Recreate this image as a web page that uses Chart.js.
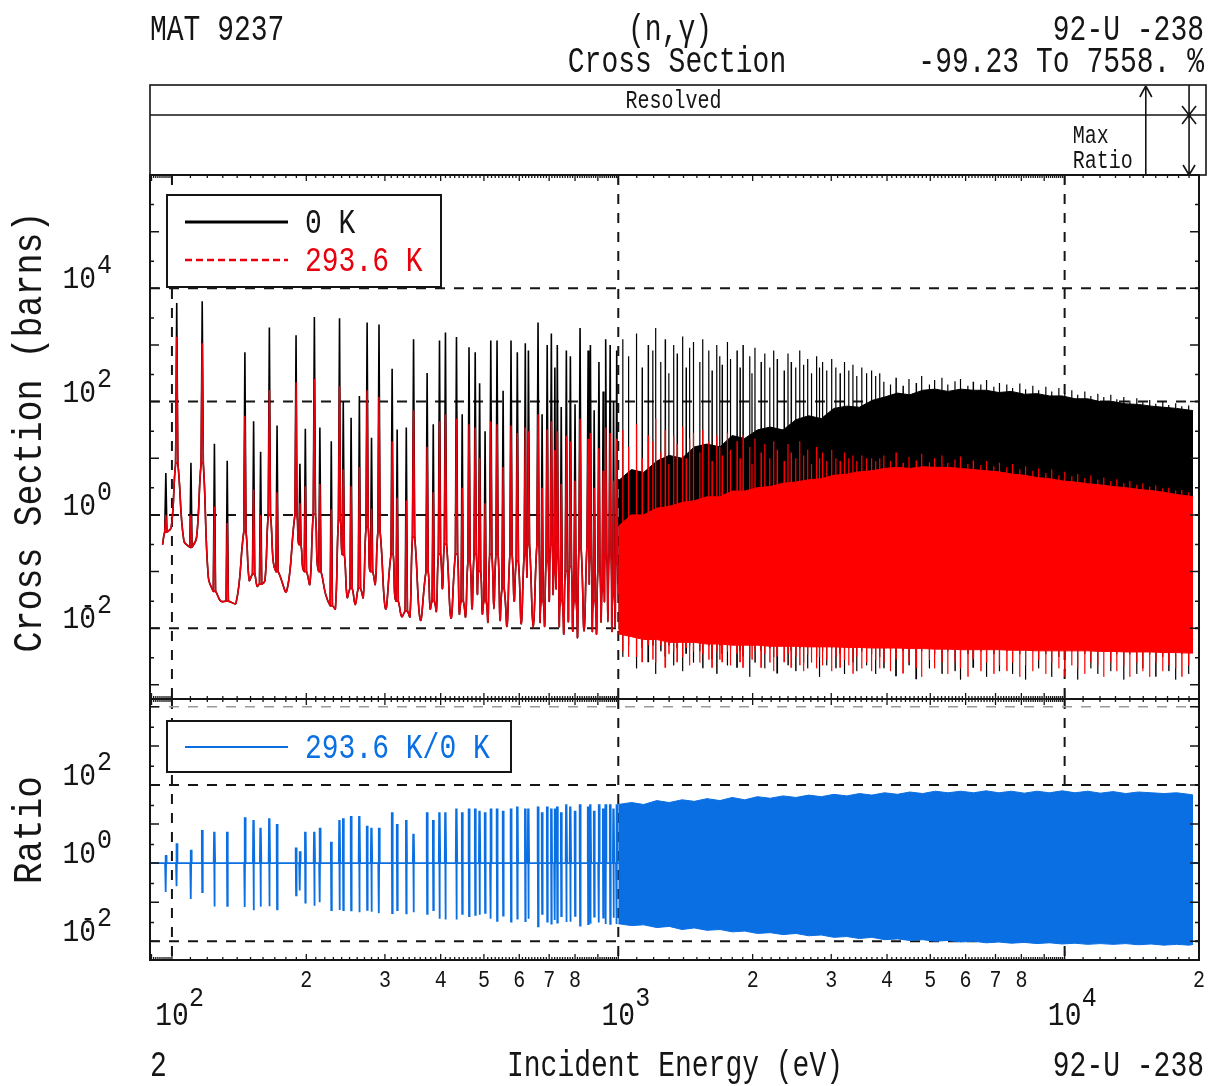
<!DOCTYPE html>
<html lang="en">
<head>
<meta charset="utf-8">
<title>MAT 9237 (n,γ) Cross Section</title>
<script src="https://cdn.jsdelivr.net/npm/chart.js@4.4.1/dist/chart.umd.min.js"></script>
<style>
  html, body { margin: 0; padding: 0; background: #ffffff; }
  #page { position: relative; width: 1210px; height: 1086px; overflow: hidden; }
  #page canvas { position: absolute; left: 0; top: 0; }
</style>
</head>
<body>
<div id="page">
  <canvas id="xsCanvas" width="1210" height="1086"></canvas>
  <canvas id="ratioCanvas" width="1210" height="1086"></canvas>
</div>
<script>
// ---------- axis ranges ----------
const eMin = 89.3, eMax = 20000;                 // incident energy (eV)
const xsMin = 10 ** -3.25, xsMax = 1e6;          // cross section (barns)
const ratioMin = 10 ** -2.48, ratioMax = 10 ** 4.2;

const xDecades = [100, 1000, 10000];
const xsLabelExp = [4, 2, 0, -2];
const ratioLabelExp = [2, 0, -2];
const xsGridLevels = [1e4, 1e2, 1, 1e-2];
const ratioGridLevels = [1e2, 1e-2];

// max-ratio markers in the top strip (eV)
const maxRatioE = 15200;
const markE = 19000;

// ---------- resolved resonances below 1 keV ----------
const resolvedStart = [95.3, 0.3];
const resolvedEnd = [1000, 0.04];
const resE = [96.9, 102.5, 110.3, 116.9, 124.5, 133, 145.7, 152.4, 158, 165.3,
  172, 189.7, 193.5, 199, 208.5, 214.5, 227.5, 237.4, 242, 252,
  263, 273.7, 280, 291, 311.4, 319.6, 335, 347.8, 373, 385,
  397.6, 410, 434, 447, 463, 478, 489, 503, 518, 535,
  552, 575, 594, 619, 629, 661, 675, 693, 708, 721,
  730, 745, 765, 781, 800, 821, 856, 866, 883, 905,
  925, 937, 959, 976, 992];
// peak cross sections, 0 K and 293.6 K (barns)
const peak0 = [5.5, 5500, 8.3, 5900, 18, 9, 740, 45, 13, 2040,
  38, 1480, 8, 33, 3100, 35, 20, 2950, 100, 52,
  126, 2500, 23, 2300, 380, 32, 35, 1260, 320, 40,
  1200, 1660, 1380, 60, 910, 740, 210, 30, 1200, 1200,
  155, 1200, 740, 1070, 800, 2500, 60, 1000, 1600, 400,
  1000, 80, 800, 630, 90, 2000, 800, 1000, 70, 500,
  150, 1260, 1000, 100, 800];
const peak293 = [1.0, 1400, 1.0, 1070, 1.4, 0.72, 56, 2.8, 1.0, 160,
  2.5, 220, 1.6, 3.2, 250, 3.5, 1.26, 186, 6.3, 3.2,
  7, 158, 1.3, 120, 20, 2, 1.8, 70, 16, 2.5,
  45, 60, 50, 3, 40, 35, 10, 1.6, 45, 40,
  7, 38, 28, 35, 30, 60, 3, 32, 45, 14,
  30, 3.5, 25, 20, 4, 50, 22, 28, 3, 15,
  6, 35, 28, 4, 22];
// level where each narrow peak leaves the smooth curve (barns)
const resFoot = [0.5, 8, 0.27, 8, 0.045, 0.03, 0.5, 0.09, 0.06, 1,
  0.1, 1, 0.3, 0.1, 1, 0.1, 0.025, 0.8, 0.2, 0.05,
  0.05, 0.6, 0.1, 0.5, 0.2, 0.03, 0.02, 0.4, 0.1, 0.03,
  0.2, 0.3, 0.2, 0.03, 0.15, 0.2, 0.1, 0.03, 0.2, 0.2,
  0.05, 0.2, 0.15, 0.2, 0.3, 0.3, 0.03, 0.15, 0.3, 0.1,
  0.2, 0.03, 0.1, 0.12, 0.03, 0.25, 0.3, 0.2, 0.03, 0.1,
  0.05, 0.2, 0.2, 0.04, 0.15];
// minimum between neighbouring resonances (barns)
const resValley = [0.6, 0.35, 0.4, 0.08, 0.03, 0.028, 0.07, 0.055, 0.07, 0.15,
  0.045, 0.4, 0.12, 0.06, 0.15, 0.04, 0.022, 0.3, 0.035, 0.026,
  0.035, 0.12, 0.06, 0.022, 0.04, 0.016, 0.016, 0.014, 0.022, 0.02,
  0.05, 0.015, 0.018, 0.016, 0.022, 0.04, 0.018, 0.013, 0.022, 0.014,
  0.011, 0.03, 0.012, 0.08, 0.01, 0.013, 0.011, 0.03, 0.04, 0.05,
  0.011, 0.008, 0.013, 0.009, 0.007, 0.009, 0.06, 0.009, 0.008, 0.013,
  0.03, 0.013, 0.009, 0.011];
// largest 293.6 K / 0 K ratio in each resonance wing
const wingRatio = [1.6, 3.2, 2.2, 7, 6.3, 6.3, 15, 12.6, 8, 14,
  10, 2.5, 2, 6.3, 6.3, 8, 3.5, 12.6, 14, 16,
  16, 9, 8, 8, 20, 10, 12.6, 5.6, 20, 12.6,
  20, 20, 25, 20, 25, 25, 22, 20, 25, 25,
  22, 25, 28, 25, 25, 28, 20, 28, 25, 25,
  28, 20, 32, 28, 22, 32, 28, 32, 22, 32,
  25, 32, 32, 25, 32];

// ---------- dense region, 1 - 19.4 keV (log10 values) ----------
const denseE = [1000, 1070, 1140, 1220, 1300, 1390, 1480, 1580, 1690, 1800,
  1920, 2050, 2190, 2340, 2500, 2670, 2850, 3040, 3250, 3470,
  3700, 3950, 4220, 4500, 4810, 5130, 5480, 5850, 6250, 6670,
  7120, 7600, 8120, 8670, 9250, 9880, 10550, 11260, 12020, 12840,
  13700, 14630, 15620, 16680, 17810, 19000, 19400];
const blackTopLog = [0.6, 0.8, 0.75, 0.95, 1.05, 1.0, 1.2, 1.25, 1.2, 1.4,
  1.35, 1.5, 1.55, 1.5, 1.68, 1.75, 1.7, 1.88, 1.92, 1.9,
  2.02, 2.08, 2.15, 2.12, 2.2, 2.22, 2.18, 2.22, 2.2, 2.2,
  2.16, 2.18, 2.13, 2.14, 2.1, 2.1, 2.05, 2.05, 2.0, 2.0,
  1.96, 1.95, 1.92, 1.9, 1.88, 1.85, 1.84];
const blackBotLog = [-2.0, -2.0, -2.05, -2.05, -2.05, -2.1, -2.1, -2.1, -2.1, -2.15,
  -2.15, -2.15, -2.15, -2.15, -2.2, -2.2, -2.2, -2.2, -2.2, -2.2,
  -2.2, -2.2, -2.2, -2.2, -2.2, -2.2, -2.2, -2.2, -2.2, -2.2,
  -2.2, -2.2, -2.2, -2.2, -2.2, -2.2, -2.2, -2.2, -2.2, -2.2,
  -2.2, -2.2, -2.2, -2.2, -2.2, -2.2, -2.2];
const redTopLog = [-0.2, 0.0, 0.0, 0.12, 0.15, 0.22, 0.25, 0.32, 0.32, 0.42,
  0.42, 0.48, 0.5, 0.56, 0.58, 0.62, 0.64, 0.7, 0.72, 0.76,
  0.78, 0.82, 0.84, 0.82, 0.85, 0.84, 0.84, 0.82, 0.8, 0.78,
  0.76, 0.72, 0.7, 0.66, 0.64, 0.6, 0.58, 0.55, 0.53, 0.5,
  0.48, 0.45, 0.43, 0.4, 0.36, 0.33, 0.32];
const redBotLog = [-2.1, -2.15, -2.2, -2.2, -2.25, -2.25, -2.25, -2.28, -2.28, -2.3,
  -2.3, -2.3, -2.32, -2.32, -2.32, -2.33, -2.33, -2.33, -2.34, -2.34,
  -2.35, -2.35, -2.35, -2.36, -2.36, -2.37, -2.37, -2.38, -2.38, -2.38,
  -2.38, -2.39, -2.39, -2.4, -2.4, -2.4, -2.4, -2.4, -2.41, -2.41,
  -2.42, -2.42, -2.42, -2.43, -2.43, -2.44, -2.44];
const ratioTopLog = [1.5, 1.55, 1.5, 1.6, 1.55, 1.62, 1.58, 1.65, 1.6, 1.68,
  1.62, 1.7, 1.66, 1.72, 1.68, 1.74, 1.7, 1.76, 1.72, 1.78,
  1.74, 1.8, 1.76, 1.82, 1.78, 1.84, 1.8, 1.84, 1.8, 1.85,
  1.8, 1.84, 1.79, 1.84, 1.8, 1.85, 1.8, 1.84, 1.79, 1.83,
  1.78, 1.82, 1.8, 1.78, 1.8, 1.76, 1.74];
const ratioBotLog = [-1.55, -1.6, -1.58, -1.65, -1.62, -1.7, -1.66, -1.72, -1.7, -1.76,
  -1.74, -1.8, -1.78, -1.83, -1.8, -1.86, -1.84, -1.9, -1.88, -1.93,
  -1.9, -1.96, -1.94, -1.98, -1.96, -2.0, -1.98, -2.02, -2.0, -2.04,
  -2.02, -2.05, -2.03, -2.06, -2.04, -2.07, -2.05, -2.08, -2.06, -2.08,
  -2.06, -2.09, -2.07, -2.1, -2.08, -2.1, -2.08];

// individual lines standing out of the dense mass (log10 barns)
const spikeE = [1023, 1054, 1098, 1131, 1167, 1195, 1212, 1245, 1274, 1298,
  1330, 1355, 1393, 1419, 1444, 1473, 1522, 1546, 1595, 1622,
  1662, 1688, 1709, 1755, 1783, 1845, 1874, 1903, 1969, 1993,
  2024, 2089, 2128, 2185, 2228, 2270, 2353, 2400, 2440, 2498,
  2550, 2600, 2655, 2708, 2780, 2822, 2867, 2929, 3005, 3072,
  3140, 3210, 3282, 3355, 3420, 3510, 3598, 3692, 3770, 3850,
  3935, 4070, 4190, 4345, 4480, 4650, 4780, 4975, 5110, 5310,
  5470, 5680, 5840, 6070, 6240, 6490, 6680, 6940, 7140, 7420,
  7640, 7930, 8170, 8480, 8740, 9070, 9350, 9700, 10000, 10370,
  10690, 11090, 11440, 11860, 12230, 12680, 13080, 13560, 13990, 14500,
  14960, 15500, 16000, 16580, 17110, 17720, 18300, 18950];
const spikeTop0Log = [3.1, 2.8, 3.2, 2.6, 3.0, 2.9, 3.3, 2.7, 3.1, 2.5,
  3.0, 2.85, 3.15, 2.6, 2.95, 3.05, 2.7, 3.1, 2.9, 2.55,
  3.0, 2.8, 2.65, 3.05, 2.75, 2.9, 2.6, 3.0, 2.8, 2.5,
  2.95, 2.7, 2.85, 2.6, 2.9, 2.75, 2.55, 2.85, 2.7, 2.6,
  2.9, 2.65, 2.75, 2.5, 2.8, 2.6, 2.7, 2.55, 2.75, 2.6,
  2.5, 2.7, 2.55, 2.65, 2.45, 2.6, 2.5, 2.55, 2.45, 2.5,
  2.35, 2.3, 2.42, 2.28, 2.4, 2.33, 2.45, 2.3, 2.38, 2.42,
  2.3, 2.36, 2.4, 2.28, 2.35, 2.3, 2.38, 2.26, 2.33, 2.3,
  2.24, 2.32, 2.22, 2.28, 2.2, 2.26, 2.18, 2.24, 2.15, 2.2,
  2.12, 2.18, 2.1, 2.14, 2.08, 2.12, 2.04, 2.08, 2.02, 2.06,
  1.99, 2.03, 1.96, 2.0, 1.94, 1.97, 1.92, 1.93];
const spikeTop293Log = [1.5, 1.2, 1.6, 1.0, 1.4, 1.3, 1.7, 1.1, 1.5, 0.9,
  1.4, 1.25, 1.55, 1.0, 1.35, 1.45, 1.1, 1.5, 1.3, 0.95,
  1.4, 1.2, 1.05, 1.45, 1.15, 1.3, 1.0, 1.4, 1.2, 0.9,
  1.35, 1.1, 1.25, 1.0, 1.3, 1.15, 0.95, 1.25, 1.1, 1.0,
  1.3, 1.05, 1.15, 0.9, 1.2, 1.0, 1.1, 0.95, 1.15, 1.0,
  0.95, 1.1, 1.0, 1.05, 0.95, 1.05, 1.0, 1.0, 0.95, 1.0,
  1.05, 0.95, 1.1, 0.92, 1.02, 0.96, 1.08, 0.93, 1.0, 1.05,
  0.92, 0.98, 1.03, 0.9, 0.96, 0.88, 0.95, 0.86, 0.92, 0.84,
  0.9, 0.8, 0.86, 0.78, 0.82, 0.74, 0.8, 0.7, 0.76, 0.68,
  0.72, 0.65, 0.7, 0.62, 0.66, 0.6, 0.63, 0.56, 0.6, 0.53,
  0.56, 0.5, 0.52, 0.47, 0.48, 0.43, 0.44, 0.4];
const spikeLow0Log = [-2.5, -2.3, -2.7, -2.35, -2.6, -2.3, -2.8, -2.4, -2.5, -2.3,
  -2.65, -2.35, -2.75, -2.45, -2.3, -2.6, -2.4, -2.7, -2.3, -2.55,
  -2.8, -2.3, -2.45, -2.65, -2.35, -2.7, -2.4, -2.5, -2.85, -2.3,
  -2.6, -2.4, -2.7, -2.35, -2.5, -2.8, -2.3, -2.65, -2.4, -2.75,
  -2.35, -2.6, -2.7, -2.3, -2.5, -2.85, -2.4, -2.65, -2.35, -2.7,
  -2.45, -2.8, -2.35, -2.6, -2.75, -2.4, -2.65, -2.45, -2.8, -2.5,
  -2.7, -2.4, -2.85, -2.4, -2.65, -2.9, -2.4, -2.7, -2.45, -2.8,
  -2.4, -2.75, -2.9, -2.45, -2.7, -2.4, -2.85, -2.45, -2.75, -2.4,
  -2.8, -2.45, -2.9, -2.4, -2.7, -2.45, -2.85, -2.5, -2.75, -2.4,
  -2.9, -2.45, -2.7, -2.8, -2.4, -2.75, -2.45, -2.9, -2.45, -2.8,
  -2.7, -2.45, -2.85, -2.5, -2.75, -2.9, -2.45, -2.8];
const spikeLow293Log = [-2.4, -2.5, -2.5, -2.6, -2.3, -2.55, -2.6, -2.3, -2.7, -2.45,
  -2.4, -2.6, -2.5, -2.35, -2.65, -2.4, -2.6, -2.45, -2.55, -2.7,
  -2.4, -2.55, -2.6, -2.4, -2.65, -2.45, -2.6, -2.7, -2.5, -2.55,
  -2.4, -2.7, -2.45, -2.6, -2.75, -2.5, -2.6, -2.45, -2.7, -2.5,
  -2.65, -2.75, -2.45, -2.6, -2.7, -2.5, -2.65, -2.55, -2.75, -2.5,
  -2.7, -2.55, -2.65, -2.8, -2.5, -2.7, -2.6, -2.75, -2.55, -2.7,
  -2.6, -2.75, -2.55, -2.8, -2.6, -2.7, -2.85, -2.55, -2.7, -2.6,
  -2.8, -2.6, -2.7, -2.85, -2.55, -2.75, -2.6, -2.8, -2.65, -2.75,
  -2.6, -2.85, -2.65, -2.75, -2.55, -2.8, -2.6, -2.7, -2.85, -2.65,
  -2.7, -2.8, -2.6, -2.65, -2.85, -2.6, -2.75, -2.65, -2.85, -2.6,
  -2.75, -2.85, -2.6, -2.75, -2.65, -2.7, -2.85, -2.65];

// ---------- styling ----------
const ink = '#151515';
const black = '#000000';
const red = '#ff0000';
const redLine = '#e8000c';
const blue = '#0a6fe2';
const mono = '"Liberation Mono", "DejaVu Sans Mono", monospace';

const baseSpread = 10 ** 0.0025;   // half-width of a narrow peak base
const spikeSpread = 10 ** 0.0006;
const barSpread = 10 ** 0.0008;

// ---------- series builders ----------
const pts = (xs, ys) => xs.map((x, i) => ({ x, y: ys[i] }));
const fromLog = a => a.map(v => 10 ** v);

// foot positions of each resolved peak, kept inside the gap to its neighbours
function feet(i) {
  const e = resE[i], n = resE.length;
  const prevMid = i > 0 ? Math.sqrt(resE[i - 1] * e) : resolvedStart[0];
  const nextMid = i < n - 1 ? Math.sqrt(e * resE[i + 1]) : resolvedEnd[0];
  return [Math.max(e / baseSpread, Math.sqrt(prevMid * e)),
          Math.min(e * baseSpread, Math.sqrt(e * nextMid))];
}

// smooth curve through the valleys and peak feet
function resolvedBackground() {
  const out = [{ x: resolvedStart[0], y: resolvedStart[1] }];
  resE.forEach((e, i) => {
    const [fl, fr] = feet(i);
    out.push({ x: fl, y: resFoot[i] }, { x: fr, y: resFoot[i] });
    if (i < resE.length - 1) out.push({ x: Math.sqrt(e * resE[i + 1]), y: resValley[i] });
  });
  out.push({ x: resolvedEnd[0], y: resolvedEnd[1] });
  return out;
}

// narrow peaks standing on the feet
function resolvedPeaks(peaks) {
  const out = [];
  resE.forEach((e, i) => {
    const [fl, fr] = feet(i);
    out.push({ x: fl, y: resFoot[i] }, { x: e, y: peaks[i] }, { x: fr, y: resFoot[i] },
             { x: fr * spikeSpread, y: null });
  });
  return out;
}

function spikeSeries(topLog, lowLog) {
  const out = [];
  spikeE.forEach((e, i) => {
    out.push({ x: e / spikeSpread, y: 10 ** lowLog[i] },
             { x: e, y: 10 ** topLog[i] },
             { x: e * spikeSpread, y: 10 ** lowLog[i] },
             { x: e * spikeSpread * spikeSpread, y: null });
  });
  return out;
}

function ratioSeries() {
  const out = [{ x: eMin, y: 1 }];
  resE.forEach((e, i) => {
    out.push({ x: e / (barSpread * barSpread), y: 1 },
             { x: e / barSpread, y: wingRatio[i] },
             { x: e, y: peak293[i] / peak0[i] },
             { x: e * barSpread, y: wingRatio[i] },
             { x: e * barSpread * barSpread, y: 1 });
  });
  out.push({ x: eMax, y: 1 });
  return out;
}

function band(name, topLog, botLog, color, order) {
  return [
    { label: name + ' upper', data: pts(denseE, fromLog(topLog)), borderColor: color,
      backgroundColor: color, borderWidth: 1, fill: '+1', order },
    { label: name + ' lower', data: pts(denseE, fromLog(botLog)), borderColor: color,
      borderWidth: 1, fill: false, order }
  ];
}

// ---------- drawing helpers ----------
function text(ctx, str, x, y, size, align, color, stretch) {
  ctx.save();
  ctx.translate(x, y);
  ctx.scale(1, stretch || 1.3);
  ctx.font = size + 'px ' + mono;
  ctx.textAlign = align || 'left';
  ctx.textBaseline = 'alphabetic';
  ctx.fillStyle = color || ink;
  ctx.fillText(str, 0, 0);
  ctx.restore();
}

function vtext(ctx, str, x, y, size, stretch) {
  ctx.save();
  ctx.translate(x, y);
  ctx.rotate(-Math.PI / 2);
  ctx.scale(1, stretch);
  ctx.font = size + 'px ' + mono;
  ctx.textAlign = 'center';
  ctx.textBaseline = 'alphabetic';
  ctx.fillStyle = ink;
  ctx.fillText(str, 0, 0);
  ctx.restore();
}

function powLabel(ctx, xRight, yBase, p) {
  text(ctx, '10', xRight, yBase, 28, 'right', ink, 1.15);
  if (p < 0) text(ctx, '-', xRight - 8, yBase - 15, 24, 'center', ink, 1.1);
  text(ctx, String(Math.abs(p)), xRight + 1, yBase - 15, 25, 'left', ink, 1.1);
}

function dashedGrid(ctx, a, xs, ys, levels) {
  ctx.save();
  ctx.beginPath();
  ctx.rect(a.left, a.top, a.right - a.left, a.bottom - a.top);
  ctx.clip();
  ctx.strokeStyle = ink;
  ctx.lineWidth = 2;
  ctx.setLineDash([10, 9]);
  ctx.beginPath();
  xDecades.forEach(e => {
    const px = xs.getPixelForValue(e);
    ctx.moveTo(px, a.top);
    ctx.lineTo(px, a.bottom);
  });
  levels.forEach(v => {
    const py = ys.getPixelForValue(v);
    ctx.moveTo(a.left, py);
    ctx.lineTo(a.right, py);
  });
  ctx.stroke();
  ctx.restore();
}

function xTicks(ctx, xs, yEdge, dir) {
  ctx.save();
  ctx.strokeStyle = ink;
  ctx.lineWidth = 1.3;
  ctx.beginPath();
  for (let dec = 10; dec <= 10000; dec *= 10) {
    for (let k = 10; k < 100; k++) {
      const e = k * dec / 10;
      if (e < xs.min || e > xs.max) continue;
      const px = xs.getPixelForValue(e);
      const len = k === 10 ? 9 : (k % 10 === 0 ? 6 : 3);
      if (dir >= 0) { ctx.moveTo(px, yEdge); ctx.lineTo(px, yEdge + len); }
      if (dir <= 0) { ctx.moveTo(px, yEdge); ctx.lineTo(px, yEdge - len); }
    }
  }
  ctx.stroke();
  ctx.restore();
}

function yTicks(ctx, a, ys, pLo, pHi) {
  ctx.save();
  ctx.strokeStyle = ink;
  ctx.lineWidth = 1.5;
  ctx.beginPath();
  for (let p = pLo; p <= pHi; p++) {
    [[10 ** p, 9], [3 * 10 ** p, 4]].forEach(([v, len]) => {
      if (v <= ys.min || v >= ys.max) return;
      const py = ys.getPixelForValue(v);
      ctx.moveTo(a.left, py); ctx.lineTo(a.left + len, py);
      ctx.moveTo(a.right, py); ctx.lineTo(a.right - len, py);
    });
  }
  ctx.stroke();
  ctx.restore();
}

function frame(ctx, a) {
  ctx.save();
  ctx.strokeStyle = ink;
  ctx.lineWidth = 2;
  ctx.setLineDash([]);
  ctx.strokeRect(a.left, a.top, a.right - a.left, a.bottom - a.top);
  ctx.restore();
}

function legendBox(ctx, x, y, w, h) {
  ctx.save();
  ctx.fillStyle = '#ffffff';
  ctx.fillRect(x, y, w, h);
  ctx.strokeStyle = ink;
  ctx.lineWidth = 2;
  ctx.strokeRect(x, y, w, h);
  ctx.restore();
}

function sample(ctx, x0, x1, y, color, width, dash) {
  ctx.save();
  ctx.strokeStyle = color;
  ctx.lineWidth = width;
  ctx.setLineDash(dash || []);
  ctx.beginPath();
  ctx.moveTo(x0, y);
  ctx.lineTo(x1, y);
  ctx.stroke();
  ctx.restore();
}

function seg(ctx, x0, y0, x1, y1) {
  ctx.moveTo(x0, y0);
  ctx.lineTo(x1, y1);
}

// ---------- cross section panel ----------
const xsFrame = {
  id: 'xsFrame',
  beforeDatasetsDraw(chart) {
    const { ctx, chartArea: a, scales: { x, y } } = chart;
    dashedGrid(ctx, a, x, y, xsGridLevels);
  },
  afterDatasetsDraw(chart) {
    const { ctx, chartArea: a, scales: { x, y } } = chart;

    // legend
    const lx = a.left + 17, ly = a.top + 20;
    legendBox(ctx, lx, ly, 274, 92);
    sample(ctx, lx + 18, lx + 121, ly + 27, black, 3);
    text(ctx, '0 K', lx + 138, ly + 38, 28, 'left', ink, 1.25);
    sample(ctx, lx + 18, lx + 121, ly + 65, redLine, 2.5, [7, 4]);
    text(ctx, '293.6 K', lx + 138, ly + 76, 28, 'left', redLine, 1.25);

    frame(ctx, a);
    xTicks(ctx, x, a.top, 1);
    xTicks(ctx, x, a.bottom, 0);
    yTicks(ctx, a, y, -3, 5);
    xsLabelExp.forEach(p => powLabel(ctx, 96, y.getPixelForValue(10 ** p), p));
    vtext(ctx, 'Cross Section (barns)', 41, (a.top + a.bottom) / 2 - 5, 35, 1.15);

    // header
    text(ctx, 'MAT 9237', a.left, 40, 28, 'left', ink, 1.35);
    text(ctx, '(n,\u03b3)', 670, 40, 28, 'center', ink, 1.35);
    text(ctx, '92-U -238', 1204, 40, 28, 'right', ink, 1.35);
    text(ctx, 'Cross Section', 677, 72, 28, 'center', ink, 1.35);
    text(ctx, '-99.23 To 7558. %', 1204, 72, 28, 'right', ink, 1.35);

    // energy-range strip with the max-ratio markers
    const bandTop = 85, bandMid = 115, bandRight = a.right + 7;
    const xMax = x.getPixelForValue(maxRatioE);
    const xMark = x.getPixelForValue(markE);
    ctx.save();
    ctx.strokeStyle = ink;
    ctx.lineWidth = 1.6;
    ctx.strokeRect(a.left, bandTop, bandRight - a.left, a.top - bandTop);
    ctx.beginPath();
    seg(ctx, a.left, bandMid, bandRight, bandMid);
    seg(ctx, xMax, a.top, xMax, bandTop + 1);
    seg(ctx, xMax - 6, bandTop + 12, xMax, bandTop + 1);
    seg(ctx, xMax + 6, bandTop + 12, xMax, bandTop + 1);
    seg(ctx, xMark, bandTop, xMark, a.top);
    seg(ctx, xMark - 6, a.top - 10, xMark, a.top);
    seg(ctx, xMark + 6, a.top - 10, xMark, a.top);
    seg(ctx, xMark - 7, bandMid - 9, xMark + 7, bandMid + 9);
    seg(ctx, xMark + 7, bandMid - 9, xMark - 7, bandMid + 9);
    ctx.stroke();
    ctx.restore();
    text(ctx, 'Resolved', (a.left + xMark) / 2 + 4, 108, 20, 'center', ink, 1.25);
    text(ctx, 'Max', xMax - 73, 143, 20, 'left', ink, 1.25);
    text(ctx, 'Ratio', xMax - 73, 168, 20, 'left', ink, 1.25);
  }
};

// ---------- ratio panel ----------
const ratioFrame = {
  id: 'ratioFrame',
  beforeDatasetsDraw(chart) {
    const { ctx, chartArea: a, scales: { x, y } } = chart;
    dashedGrid(ctx, a, x, y, ratioGridLevels);
    ctx.save();
    ctx.strokeStyle = '#9a9a9a';
    ctx.lineWidth = 1.5;
    ctx.setLineDash([10, 9]);
    ctx.beginPath();
    seg(ctx, a.left, y.getPixelForValue(1e4), a.right, y.getPixelForValue(1e4));
    ctx.stroke();
    ctx.restore();
  },
  afterDatasetsDraw(chart) {
    const { ctx, chartArea: a, scales: { x, y } } = chart;

    const lx = a.left + 17, ly = a.top + 22;
    legendBox(ctx, lx, ly, 344, 51);
    sample(ctx, lx + 18, lx + 121, ly + 26, blue, 2);
    text(ctx, '293.6 K/0 K', lx + 138, ly + 37, 28, 'left', blue, 1.25);

    frame(ctx, a);
    xTicks(ctx, x, a.bottom, -1);
    yTicks(ctx, a, y, -2, 4);
    ratioLabelExp.forEach(p => powLabel(ctx, 96, y.getPixelForValue(10 ** p), p));
    vtext(ctx, 'Ratio', 41, y.getPixelForValue(1) - 33, 36, 1.15);

    // energy labels
    xDecades.forEach((e, i) => {
      const px = x.getPixelForValue(e);
      text(ctx, '10', px, 1025, 28, 'center', ink, 1.2);
      text(ctx, String(i + 2), px + 17, 1006, 25, 'left', ink, 1.1);
      for (let m = 2; m <= 8; m++) {
        if (m * e > eMax) continue;
        text(ctx, String(m), x.getPixelForValue(m * e), 987, 20, 'center', ink, 1.2);
      }
    });

    // footer
    text(ctx, '2', a.left, 1076, 28, 'left', ink, 1.35);
    text(ctx, 'Incident Energy (eV)', 675, 1076, 28, 'center', ink, 1.35);
    text(ctx, '92-U -238', 1204, 1076, 28, 'right', ink, 1.35);
  }
};

// ---------- charts ----------
function options(yMin, yMax, padding) {
  return {
    responsive: false,
    animation: false,
    devicePixelRatio: 1,
    events: [],
    layout: { padding },
    plugins: { legend: { display: false }, tooltip: { enabled: false }, title: { display: false } },
    elements: { point: { radius: 0 }, line: { tension: 0 } },
    scales: {
      x: { type: 'logarithmic', min: eMin, max: eMax, bounds: 'data', display: false },
      y: { type: 'logarithmic', min: yMin, max: yMax, bounds: 'data', display: false }
    }
  };
}

const background = resolvedBackground();

new Chart(document.getElementById('xsCanvas'), {
  type: 'line',
  data: {
    datasets: [
      ...band('0 K dense', blackTopLog, blackBotLog, black, 7),
      { label: '0 K lines', data: spikeSeries(spikeTop0Log, spikeLow0Log), borderColor: black,
        borderWidth: 1.2, fill: false, order: 6 },
      { label: '0 K', data: background, borderColor: black, borderWidth: 1.6,
        fill: false, tension: 0.4, order: 5 },
      { label: '0 K peaks', data: resolvedPeaks(peak0), borderColor: black, borderWidth: 1.6,
        fill: false, order: 4 },
      ...band('293.6 K dense', redTopLog, redBotLog, red, 3),
      { label: '293.6 K lines', data: spikeSeries(spikeTop293Log, spikeLow293Log), borderColor: red,
        borderWidth: 1.2, fill: false, order: 2 },
      { label: '293.6 K', data: background, borderColor: redLine, borderWidth: 1.6,
        fill: false, tension: 0.4, order: 1 },
      { label: '293.6 K peaks', data: resolvedPeaks(peak293), borderColor: redLine, borderWidth: 1.6,
        fill: false, order: 0 }
    ]
  },
  options: options(xsMin, xsMax, { left: 150, top: 175, right: 11, bottom: 387 }),
  plugins: [xsFrame]
});

new Chart(document.getElementById('ratioCanvas'), {
  type: 'line',
  data: {
    datasets: [
      ...band('ratio dense', ratioTopLog, ratioBotLog, blue, 1),
      { label: '293.6 K/0 K', data: ratioSeries(), borderColor: blue, borderWidth: 1.8,
        fill: false, order: 2 }
    ]
  },
  options: options(ratioMin, ratioMax, { left: 150, top: 699, right: 11, bottom: 126 }),
  plugins: [ratioFrame]
});
</script>
</body>
</html>
